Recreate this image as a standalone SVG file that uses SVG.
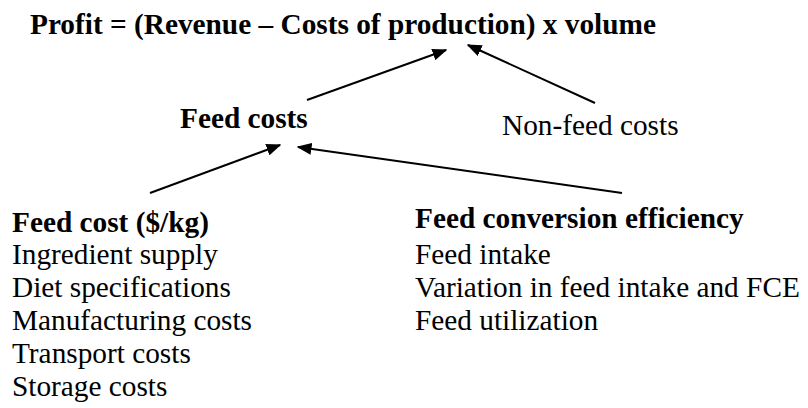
<svg xmlns="http://www.w3.org/2000/svg" width="808" height="408" viewBox="0 0 808 408">
  <style>
    .t { font-size: 29.3px; fill: #000; }
    .b { font-weight: bold; }
    .link { stroke: #000; stroke-width: 2; fill: none; marker-end: url(#head); }
  </style>
  <defs>
    <!-- filled triangular arrowhead -->
    <marker id="head" viewBox="0 0 10 10" refX="9" refY="5" markerWidth="15" markerHeight="12" markerUnits="userSpaceOnUse" orient="auto" preserveAspectRatio="none">
      <path d="M0,0 L10,5 L0,10 Z" fill="#000"/>
    </marker>
  </defs>
  <rect width="808" height="408" fill="#fff"/>

  <g font-family="'Liberation Serif', Tinos, 'DejaVu Serif', serif">
    <g id="profit">
      <text class="t b" x="30" y="34">Profit = (Revenue – Costs of production) x volume</text>
    </g>
    <g id="feed-costs">
      <text class="t b" x="180" y="128">Feed costs</text>
    </g>
    <g id="non-feed-costs">
      <text class="t" x="502" y="135">Non-feed costs</text>
    </g>
    <g id="feed-cost-per-kg">
      <text class="t b" x="12" y="232">Feed cost ($/kg)</text>
      <text class="t" x="12" y="264">Ingredient supply</text>
      <text class="t" x="12" y="297">Diet specifications</text>
      <text class="t" x="12" y="330">Manufacturing costs</text>
      <text class="t" x="12" y="363">Transport costs</text>
      <text class="t" x="12" y="396">Storage costs</text>
    </g>
    <g id="feed-conversion-efficiency">
      <text class="t b" x="415" y="228">Feed conversion efficiency</text>
      <text class="t" x="415" y="264">Feed intake</text>
      <text class="t" x="415" y="297">Variation in feed intake and FCE</text>
      <text class="t" x="415" y="330">Feed utilization</text>
    </g>
  </g>

  <g id="connectors">
    <line class="link" x1="307" y1="100" x2="446" y2="50"/>
    <line class="link" x1="595" y1="103" x2="468" y2="45"/>
    <line class="link" x1="150" y1="193" x2="280" y2="145"/>
    <line class="link" x1="622" y1="193" x2="298" y2="147"/>
  </g>
</svg>
